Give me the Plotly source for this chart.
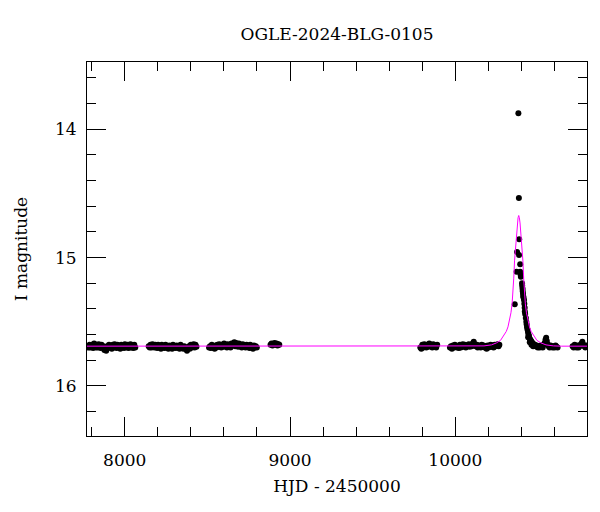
import plotly.graph_objects as go

# ---- photometry (HJD - 2450000, I mag) ----
s1_hjd = [7776, 7781, 7787, 7792, 7798, 7803, 7809, 7815, 7820, 7826, 7831, 7837, 7843, 7848, 7854,
          7860, 7865, 7871, 7877, 7882, 7888, 7894, 7899, 7905, 7911, 7916, 7922, 7928, 7933, 7939,
          7945, 7950, 7956, 7962, 7967, 7973, 7979, 7984, 7990, 7996, 8001, 8007, 8013, 8018, 8024,
          8030, 8035, 8041, 8047, 8052, 8058, 8064]
s1_mag = [15.69, 15.70, 15.68, 15.70, 15.69, 15.68, 15.705, 15.67, 15.69, 15.70, 15.68, 15.70, 15.675, 15.69, 15.705,
          15.68, 15.70, 15.69, 15.72, 15.70, 15.725, 15.69, 15.705, 15.68, 15.70, 15.69, 15.71, 15.68, 15.70, 15.675,
          15.69, 15.705, 15.68, 15.70, 15.69, 15.71, 15.68, 15.70, 15.69, 15.705, 15.675, 15.69, 15.70, 15.68, 15.705,
          15.69, 15.675, 15.70, 15.69, 15.705, 15.68, 15.70]

s2_hjd = [8145, 8151, 8156, 8162, 8168, 8173, 8179, 8185, 8190, 8196, 8202, 8207, 8213, 8219, 8224,
          8230, 8236, 8241, 8247, 8253, 8258, 8264, 8270, 8275, 8281, 8287, 8292, 8298, 8304, 8309,
          8315, 8321, 8326, 8332, 8338, 8343, 8349, 8355, 8360, 8366, 8372, 8377, 8383, 8389, 8394,
          8400, 8406, 8411, 8417, 8423, 8428, 8434]
s2_mag = [15.69, 15.70, 15.68, 15.70, 15.675, 15.69, 15.70, 15.68, 15.695, 15.705, 15.68, 15.70, 15.69, 15.71, 15.68,
          15.70, 15.69, 15.705, 15.68, 15.70, 15.69, 15.71, 15.685, 15.70, 15.695, 15.71, 15.68, 15.70, 15.69, 15.705,
          15.685, 15.70, 15.69, 15.71, 15.68, 15.70, 15.695, 15.71, 15.69, 15.705, 15.715, 15.725, 15.70, 15.69, 15.71,
          15.68, 15.70, 15.69, 15.675, 15.70, 15.68, 15.695]

s3_hjd = [8510, 8516, 8521, 8527, 8533, 8538, 8544, 8550, 8555, 8561, 8567, 8572, 8578, 8584, 8589,
          8595, 8601, 8606, 8612, 8618, 8623, 8629, 8635, 8640, 8646, 8652, 8657, 8663, 8669, 8674,
          8680, 8686, 8691, 8697, 8703, 8708, 8714, 8720, 8725, 8731, 8737, 8742, 8748, 8754, 8759,
          8765, 8771, 8776, 8782, 8788, 8793, 8799]
s3_mag = [15.70, 15.69, 15.705, 15.68, 15.70, 15.69, 15.71, 15.685, 15.70, 15.68, 15.695, 15.675, 15.69, 15.70, 15.68,
          15.695, 15.67, 15.69, 15.68, 15.70, 15.675, 15.69, 15.68, 15.70, 15.67, 15.685, 15.675, 15.66, 15.69, 15.665,
          15.68, 15.695, 15.67, 15.69, 15.68, 15.70, 15.675, 15.69, 15.685, 15.70, 15.68, 15.695, 15.69, 15.705, 15.68,
          15.70, 15.69, 15.71, 15.685, 15.70, 15.69, 15.70]

s4_hjd = [8882, 8888, 8894, 8900, 8906, 8912, 8918, 8924, 8930, 8935]
s4_mag = [15.68, 15.67, 15.685, 15.675, 15.665, 15.68, 15.67, 15.685, 15.675, 15.68]

s5_hjd = [9788, 9794, 9800, 9806, 9812, 9818, 9824, 9830, 9836, 9842, 9848, 9854, 9860, 9866, 9872,
          9878, 9884, 9890]
s5_mag = [15.70, 15.71, 15.68, 15.70, 15.675, 15.69, 15.70, 15.68, 15.695, 15.67, 15.69, 15.68, 15.70, 15.675, 15.69,
          15.685, 15.70, 15.68]

s6_hjd = [9967, 9973, 9979, 9985, 9991, 9997, 10003, 10009, 10015, 10021, 10027, 10033, 10039, 10045, 10051,
          10057, 10063, 10069, 10075, 10081, 10087, 10093, 10099, 10105, 10111, 10117, 10123, 10129, 10135, 10141,
          10147, 10153, 10159, 10165, 10171, 10177, 10183, 10189, 10195, 10201, 10207, 10213, 10219, 10225, 10231,
          10237, 10243, 10249, 10255, 10261, 10266]
s6_mag = [15.70, 15.69, 15.71, 15.685, 15.70, 15.68, 15.695, 15.70, 15.69, 15.705, 15.68, 15.70, 15.69, 15.675, 15.695,
          15.68, 15.70, 15.685, 15.69, 15.675, 15.695, 15.68, 15.69, 15.67, 15.655, 15.675, 15.69, 15.68, 15.70, 15.685,
          15.69, 15.70, 15.68, 15.695, 15.685, 15.70, 15.69, 15.71, 15.685, 15.70, 15.69, 15.68, 15.695, 15.685, 15.70,
          15.68, 15.69, 15.685, 15.675, 15.69, 15.68]

s7_hjd = [10359, 10370, 10373, 10381, 10384, 10385, 10386, 10392, 10392, 10394, 10396,
          10403, 10404, 10406, 10407, 10409, 10410, 10412,
          10415, 10417, 10419, 10420, 10422,
          10426, 10429, 10431, 10433, 10436, 10439, 10442, 10445, 10449,
          10440, 10450, 10460, 10470,
          10453, 10458, 10463, 10468, 10474, 10480, 10486, 10492, 10498, 10504, 10510, 10516, 10522, 10528, 10534,
          10540, 10545, 10549, 10553, 10558, 10564, 10570, 10576, 10582, 10588, 10594, 10600, 10606, 10612, 10618]
s7_mag = [15.364, 15.11, 14.956, 13.875, 14.535, 14.98, 14.857, 15.052, 15.11, 15.13, 15.15,
          15.20, 15.22, 15.24, 15.26, 15.28, 15.30, 15.31,
          15.33, 15.36, 15.39, 15.42, 15.44,
          15.47, 15.50, 15.52, 15.54, 15.56, 15.58, 15.60, 15.61, 15.63,
          15.62, 15.66, 15.68, 15.69,
          15.64, 15.65, 15.66, 15.67, 15.675, 15.68, 15.69, 15.685, 15.70, 15.69, 15.70, 15.685, 15.695, 15.70, 15.68,
          15.665, 15.64, 15.625, 15.65, 15.675, 15.69, 15.70, 15.685, 15.695, 15.70, 15.69, 15.70, 15.685, 15.695, 15.70]

s8_hjd = [10709, 10715, 10721, 10727, 10733, 10739, 10745, 10751, 10757, 10763, 10768, 10774, 10780, 10786, 10792]
s8_mag = [15.69, 15.70, 15.68, 15.695, 15.70, 15.685, 15.70, 15.69, 15.68, 15.67, 15.655, 15.68, 15.69, 15.70, 15.685]

# ---- model curve ----
model_hjd = [7772, 10123, 10173, 10218, 10248, 10273, 10293, 10308, 10318, 10328, 10336, 10343, 10348, 10353,
             10358, 10363, 10367, 10371, 10375, 10379, 10383, 10387, 10391, 10395, 10399, 10403, 10408, 10413,
             10418, 10423, 10430, 10438, 10448, 10458, 10473, 10493, 10518, 10548, 10593, 10643, 10796]
model_mag = [15.69, 15.69, 15.688, 15.68, 15.665, 15.645, 15.61, 15.575, 15.54, 15.49, 15.43, 15.36, 15.28, 15.16,
             15.02, 14.93, 14.86, 14.79, 14.73, 14.69, 14.672, 14.69, 14.73, 14.79, 14.86, 14.93, 15.02, 15.16,
             15.28, 15.36, 15.43, 15.49, 15.54, 15.575, 15.61, 15.645, 15.665, 15.68, 15.688, 15.69, 15.69]

title_text = "OGLE-2024-BLG-0105"
x_title = "HJD - 2450000"
y_title = "I magnitude"

all_hjd = s1_hjd + s2_hjd + s3_hjd + s4_hjd + s5_hjd + s6_hjd + s7_hjd + s8_hjd
all_mag = s1_mag + s2_mag + s3_mag + s4_mag + s5_mag + s6_mag + s7_mag + s8_mag

fig = go.Figure()
fig.add_trace(go.Scatter(x=all_hjd, y=all_mag, mode="markers",
                         marker=dict(color="black", size=6, line=dict(width=0))))
fig.add_trace(go.Scatter(x=model_hjd, y=model_mag, mode="lines",
                         line=dict(color="#ff00ff", width=1)))

FONT = "DejaVu Serif"
FS = 17
axis_common = dict(
    showline=True, linecolor="black", linewidth=1, mirror="allticks",
    ticks="inside", tickcolor="black", tickwidth=1, ticklen=19,
    showgrid=False, zeroline=False,
    tickfont=dict(family=FONT, size=FS, color="black"),
)

fig.update_layout(
    width=600, height=512,
    margin=dict(l=87, r=13, t=62, b=76),
    paper_bgcolor="white", plot_bgcolor="white",
    showlegend=False,
    font=dict(family=FONT, size=FS, color="black"),
    title=dict(text=title_text, x=0.5, xref="paper", xanchor="center",
               y=1 - 34 / 512, yref="container", yanchor="middle",
               font=dict(family=FONT, size=FS, color="black")),
    xaxis=dict(range=[7772, 10796], tick0=0, dtick=1000, tickformat="d",
               minor=dict(dtick=200, ticks="inside", ticklen=9, tickcolor="black", tickwidth=1),
               ticklabelstandoff=9,
               title=dict(text=x_title, standoff=10, font=dict(family=FONT, size=FS, color="black")),
               **axis_common),
    yaxis=dict(range=[16.39, 13.476], tick0=0, dtick=1,
               minor=dict(dtick=0.2, ticks="inside", ticklen=9, tickcolor="black", tickwidth=1),
               ticklabelstandoff=6,
               title=dict(text=y_title, standoff=23, font=dict(family=FONT, size=FS, color="black")),
               **axis_common),
)

fig.write_html("out.html", config={"displayModeBar": False},
               post_script="document.body.style.margin='0';document.body.style.padding='0';")
